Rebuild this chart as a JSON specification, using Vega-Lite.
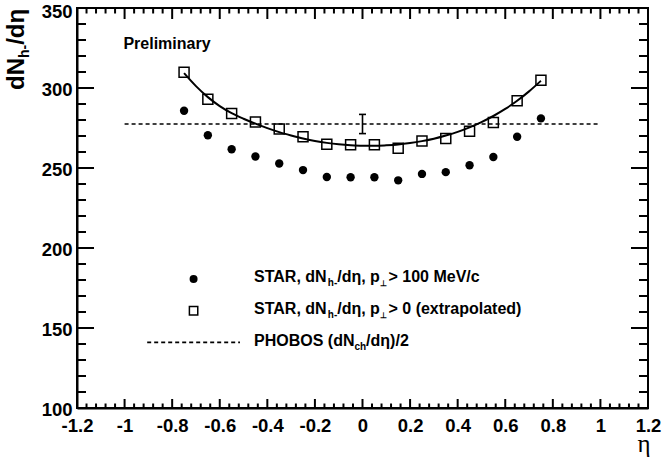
{
  "$schema": "https://vega.github.io/schema/vega-lite/v6.json",
  "width": 571,
  "height": 400,
  "autosize": "none",
  "padding": {"left": 77, "top": 8, "right": 15, "bottom": 53},
  "background": "white",
  "config": {"view": {"stroke": "black", "strokeWidth": 2}, "font": "Liberation Sans"},
  "datasets": {
    "circles": [
      {"eta": -0.75, "val": 285.8}, {"eta": -0.65, "val": 270.5}, {"eta": -0.55, "val": 261.7},
      {"eta": -0.45, "val": 257.2}, {"eta": -0.35, "val": 252.8}, {"eta": -0.25, "val": 248.7},
      {"eta": -0.15, "val": 244.4}, {"eta": -0.05, "val": 244.2}, {"eta": 0.05, "val": 244.2},
      {"eta": 0.15, "val": 242.3}, {"eta": 0.25, "val": 246.3}, {"eta": 0.35, "val": 247.4},
      {"eta": 0.45, "val": 251.7}, {"eta": 0.55, "val": 256.9}, {"eta": 0.65, "val": 269.5},
      {"eta": 0.75, "val": 281.0}
    ],
    "squares": [
      {"eta": -0.75, "val": 309.8}, {"eta": -0.65, "val": 293.0}, {"eta": -0.55, "val": 284.0},
      {"eta": -0.45, "val": 278.8}, {"eta": -0.35, "val": 274.3}, {"eta": -0.25, "val": 269.6},
      {"eta": -0.15, "val": 264.8}, {"eta": -0.05, "val": 264.5}, {"eta": 0.05, "val": 264.5},
      {"eta": 0.15, "val": 262.3}, {"eta": 0.25, "val": 266.8}, {"eta": 0.35, "val": 268.4},
      {"eta": 0.45, "val": 273.0}, {"eta": 0.55, "val": 278.5}, {"eta": 0.65, "val": 292.1},
      {"eta": 0.75, "val": 304.8}
    ],
    "curve": [
      {"eta": -0.75, "val": 309.3}, {"eta": -0.70, "val": 301.2}, {"eta": -0.65, "val": 294.3},
      {"eta": -0.60, "val": 288.7}, {"eta": -0.55, "val": 284.3}, {"eta": -0.50, "val": 280.8},
      {"eta": -0.45, "val": 277.7}, {"eta": -0.40, "val": 274.9}, {"eta": -0.35, "val": 272.4},
      {"eta": -0.30, "val": 270.3}, {"eta": -0.25, "val": 268.4}, {"eta": -0.20, "val": 266.9},
      {"eta": -0.15, "val": 265.7}, {"eta": -0.10, "val": 264.8}, {"eta": -0.05, "val": 264.2},
      {"eta": 0.0, "val": 263.9}, {"eta": 0.05, "val": 263.9}, {"eta": 0.10, "val": 264.2},
      {"eta": 0.15, "val": 264.7}, {"eta": 0.20, "val": 265.6}, {"eta": 0.25, "val": 266.8},
      {"eta": 0.30, "val": 268.3}, {"eta": 0.35, "val": 270.3}, {"eta": 0.40, "val": 272.6},
      {"eta": 0.45, "val": 275.4}, {"eta": 0.50, "val": 278.7}, {"eta": 0.55, "val": 282.5},
      {"eta": 0.60, "val": 286.9}, {"eta": 0.65, "val": 292.0}, {"eta": 0.70, "val": 297.9},
      {"eta": 0.75, "val": 304.5}
    ],
    "phobos": [{"eta": -1.0, "val": 277.5}, {"eta": 1.0, "val": 277.5}],
    "err": [{"eta": 0.0, "lo": 271.5, "hi": 283.5}],
    "xmajor": [{"eta": -1.2}, {"eta": -1.0}, {"eta": -0.8}, {"eta": -0.6}, {"eta": -0.4}, {"eta": -0.2}, {"eta": 0.0}, {"eta": 0.2}, {"eta": 0.4}, {"eta": 0.6}, {"eta": 0.8}, {"eta": 1.0}, {"eta": 1.2}],
    "xminor": [
      {"eta": -1.16}, {"eta": -1.12}, {"eta": -1.08}, {"eta": -1.04}, {"eta": -0.96}, {"eta": -0.92}, {"eta": -0.88}, {"eta": -0.84},
      {"eta": -0.76}, {"eta": -0.72}, {"eta": -0.68}, {"eta": -0.64}, {"eta": -0.56}, {"eta": -0.52}, {"eta": -0.48}, {"eta": -0.44},
      {"eta": -0.36}, {"eta": -0.32}, {"eta": -0.28}, {"eta": -0.24}, {"eta": -0.16}, {"eta": -0.12}, {"eta": -0.08}, {"eta": -0.04},
      {"eta": 0.04}, {"eta": 0.08}, {"eta": 0.12}, {"eta": 0.16}, {"eta": 0.24}, {"eta": 0.28}, {"eta": 0.32}, {"eta": 0.36},
      {"eta": 0.44}, {"eta": 0.48}, {"eta": 0.52}, {"eta": 0.56}, {"eta": 0.64}, {"eta": 0.68}, {"eta": 0.72}, {"eta": 0.76},
      {"eta": 0.84}, {"eta": 0.88}, {"eta": 0.92}, {"eta": 0.96}, {"eta": 1.04}, {"eta": 1.08}, {"eta": 1.12}, {"eta": 1.16}
    ],
    "ymajor": [{"val": 100}, {"val": 150}, {"val": 200}, {"val": 250}, {"val": 300}, {"val": 350}],
    "yminor": [
      {"val": 110}, {"val": 120}, {"val": 130}, {"val": 140}, {"val": 160}, {"val": 170}, {"val": 180}, {"val": 190},
      {"val": 210}, {"val": 220}, {"val": 230}, {"val": 240}, {"val": 260}, {"val": 270}, {"val": 280}, {"val": 290},
      {"val": 310}, {"val": 320}, {"val": 330}, {"val": 340}
    ],
    "anno": [{"note": "annotation"}]
  },
  "resolve": {"axis": {"x": "independent", "y": "independent"}},
  "layer": [
    {
      "data": {"name": "phobos"},
      "mark": {"type": "line", "stroke": "black", "strokeWidth": 1.6, "strokeDash": [4, 3]},
      "encoding": {
        "x": {
          "field": "eta", "type": "quantitative",
          "scale": {"domain": [-1.2, 1.2], "nice": false, "zero": false},
          "axis": {
            "orient": "bottom",
            "values": [-1.2, -1, -0.8, -0.6, -0.4, -0.2, 0, 0.2, 0.4, 0.6, 0.8, 1, 1.2],
            "labelExpr": "replace(format(datum.value, '~g'), '−', '-')",
            "ticks": false, "tickSize": 0,
            "domain": true, "domainColor": "black", "domainWidth": 2,
            "grid": false,
            "labelFont": "Liberation Sans", "labelFontSize": 18.5, "labelFontWeight": "bold", "labelColor": "black",
            "labelPadding": 8, "labelFlush": false, "labelOverlap": false, "labelBound": false,
            "title": "η", "titleFont": "Liberation Serif", "titleFontSize": 25, "titleFontWeight": "normal",
            "titleColor": "black", "titleX": 573, "titleY": 43, "titleAlign": "right", "titleBaseline": "alphabetic"
          }
        },
        "y": {
          "field": "val", "type": "quantitative",
          "scale": {"domain": [100, 350], "nice": false, "zero": false},
          "axis": {
            "orient": "left",
            "values": [100, 150, 200, 250, 300, 350],
            "labelExpr": "format(datum.value, 'd')",
            "labelOffset": {"condition": {"test": "datum.value === 350", "value": 3}, "value": 1},
            "ticks": false, "tickSize": 0,
            "domain": true, "domainColor": "black", "domainWidth": 2,
            "grid": false,
            "labelFont": "Liberation Sans", "labelFontSize": 18.5, "labelFontWeight": "bold", "labelColor": "black",
            "labelPadding": 5, "labelFlush": false, "labelOverlap": false, "labelBound": false,
            "title": null
          }
        }
      }
    },
    {
      "data": {"name": "xmajor"},
      "mark": {"type": "tick", "orient": "vertical", "size": 9, "thickness": 2, "yOffset": -4.5, "color": "black", "opacity": 1},
      "encoding": {"x": {"field": "eta", "type": "quantitative", "axis": null}, "y": {"datum": 100, "type": "quantitative", "axis": null}}
    },
    {
      "data": {"name": "xminor"},
      "mark": {"type": "tick", "orient": "vertical", "size": 4.5, "thickness": 2, "yOffset": -2.25, "color": "black", "opacity": 1},
      "encoding": {"x": {"field": "eta", "type": "quantitative", "axis": null}, "y": {"datum": 100, "type": "quantitative", "axis": null}}
    },
    {
      "data": {"name": "xmajor"},
      "mark": {"type": "tick", "orient": "vertical", "size": 11, "thickness": 2, "yOffset": 5.5, "color": "black", "opacity": 1},
      "encoding": {"x": {"field": "eta", "type": "quantitative", "axis": null}, "y": {"datum": 350, "type": "quantitative", "axis": null}}
    },
    {
      "data": {"name": "xminor"},
      "mark": {"type": "tick", "orient": "vertical", "size": 5.5, "thickness": 2, "yOffset": 2.75, "color": "black", "opacity": 1},
      "encoding": {"x": {"field": "eta", "type": "quantitative", "axis": null}, "y": {"datum": 350, "type": "quantitative", "axis": null}}
    },
    {
      "data": {"name": "ymajor"},
      "mark": {"type": "tick", "orient": "horizontal", "size": 17, "thickness": 2, "xOffset": 8.5, "color": "black", "opacity": 1},
      "encoding": {"y": {"field": "val", "type": "quantitative", "axis": null}, "x": {"datum": -1.2, "type": "quantitative", "axis": null}}
    },
    {
      "data": {"name": "yminor"},
      "mark": {"type": "tick", "orient": "horizontal", "size": 9, "thickness": 2, "xOffset": 4.5, "color": "black", "opacity": 1},
      "encoding": {"y": {"field": "val", "type": "quantitative", "axis": null}, "x": {"datum": -1.2, "type": "quantitative", "axis": null}}
    },
    {
      "data": {"name": "ymajor"},
      "mark": {"type": "tick", "orient": "horizontal", "size": 17, "thickness": 2, "xOffset": -8.5, "color": "black", "opacity": 1},
      "encoding": {"y": {"field": "val", "type": "quantitative", "axis": null}, "x": {"datum": 1.2, "type": "quantitative", "axis": null}}
    },
    {
      "data": {"name": "yminor"},
      "mark": {"type": "tick", "orient": "horizontal", "size": 9, "thickness": 2, "xOffset": -4.5, "color": "black", "opacity": 1},
      "encoding": {"y": {"field": "val", "type": "quantitative", "axis": null}, "x": {"datum": 1.2, "type": "quantitative", "axis": null}}
    },
    {
      "data": {"name": "curve"},
      "mark": {"type": "line", "interpolate": "monotone", "stroke": "black", "strokeWidth": 2},
      "encoding": {
        "x": {"field": "eta", "type": "quantitative", "axis": null},
        "y": {"field": "val", "type": "quantitative", "axis": null}
      }
    },
    {
      "data": {"name": "squares"},
      "mark": {"type": "point", "shape": "square", "filled": false, "stroke": "black", "strokeWidth": 1.5, "size": 100, "opacity": 1},
      "encoding": {
        "x": {"field": "eta", "type": "quantitative", "axis": null},
        "y": {"field": "val", "type": "quantitative", "axis": null}
      }
    },
    {
      "data": {"name": "circles"},
      "mark": {"type": "point", "shape": "circle", "filled": true, "fill": "black", "strokeWidth": 0, "size": 70, "opacity": 1},
      "encoding": {
        "x": {"field": "eta", "type": "quantitative", "axis": null},
        "y": {"field": "val", "type": "quantitative", "axis": null}
      }
    },
    {
      "data": {"name": "err"},
      "mark": {"type": "rule", "stroke": "black", "strokeWidth": 1.6},
      "encoding": {
        "x": {"field": "eta", "type": "quantitative", "axis": null},
        "y": {"field": "lo", "type": "quantitative", "axis": null},
        "y2": {"field": "hi"}
      }
    },
    {
      "data": {"name": "err"},
      "mark": {"type": "tick", "orient": "horizontal", "size": 7, "thickness": 1.6, "color": "black", "opacity": 1},
      "encoding": {
        "x": {"field": "eta", "type": "quantitative", "axis": null},
        "y": {"field": "lo", "type": "quantitative", "axis": null}
      }
    },
    {
      "data": {"name": "err"},
      "mark": {"type": "tick", "orient": "horizontal", "size": 7, "thickness": 1.6, "color": "black", "opacity": 1},
      "encoding": {
        "x": {"field": "eta", "type": "quantitative", "axis": null},
        "y": {"field": "hi", "type": "quantitative", "axis": null}
      }
    },
    {
      "data": {"name": "anno"},
      "mark": {"type": "point", "shape": "circle", "filled": true, "fill": "black", "strokeWidth": 0, "size": 64, "opacity": 1},
      "encoding": {
        "x": {"datum": -0.71, "type": "quantitative", "axis": null},
        "y": {"datum": 180.6, "type": "quantitative", "axis": null}
      }
    },
    {
      "data": {"name": "anno"},
      "mark": {"type": "point", "shape": "square", "filled": false, "stroke": "black", "strokeWidth": 1.5, "size": 70, "opacity": 1},
      "encoding": {
        "x": {"datum": -0.71, "type": "quantitative", "axis": null},
        "y": {"datum": 160.8, "type": "quantitative", "axis": null}
      }
    },
    {
      "data": {"name": "anno"},
      "mark": {"type": "rule", "stroke": "black", "strokeWidth": 1.6, "strokeDash": [4, 3]},
      "encoding": {
        "x": {"datum": -0.905, "type": "quantitative", "axis": null},
        "x2": {"datum": -0.515},
        "y": {"datum": 141, "type": "quantitative", "axis": null}
      }
    },
    {
      "data": {"name": "anno"},
      "mark": {"type": "text", "text": "Preliminary", "font": "Liberation Sans", "fontSize": 16, "fontWeight": "bold", "align": "left", "baseline": "alphabetic", "color": "black"},
      "encoding": {
        "x": {"datum": -1.005, "type": "quantitative", "axis": null},
        "y": {"datum": 324.2, "type": "quantitative", "axis": null}
      }
    },
    {
      "data": {"name": "anno"},
      "mark": {"type": "text", "text": "STAR, dN", "font": "Liberation Sans", "fontSize": 16, "fontWeight": "bold", "align": "left", "baseline": "alphabetic", "color": "black"},
      "encoding": {"x": {"datum": -0.456, "type": "quantitative", "axis": null}, "y": {"datum": 178.9, "type": "quantitative", "axis": null}}
    },
    {
      "data": {"name": "anno"},
      "mark": {"type": "text", "text": "h-", "font": "Liberation Sans", "fontSize": 10, "fontWeight": "bold", "align": "left", "baseline": "alphabetic", "color": "black", "dx": 73.8, "dy": 4},
      "encoding": {"x": {"datum": -0.456, "type": "quantitative", "axis": null}, "y": {"datum": 178.9, "type": "quantitative", "axis": null}}
    },
    {
      "data": {"name": "anno"},
      "mark": {"type": "text", "text": "/dη, p", "font": "Liberation Sans", "fontSize": 16, "fontWeight": "bold", "align": "left", "baseline": "alphabetic", "color": "black", "dx": 83.2},
      "encoding": {"x": {"datum": -0.456, "type": "quantitative", "axis": null}, "y": {"datum": 178.9, "type": "quantitative", "axis": null}}
    },
    {
      "data": {"name": "anno"},
      "mark": {"type": "text", "text": "⊥", "font": "Liberation Sans", "fontSize": 8, "fontWeight": "bold", "align": "left", "baseline": "alphabetic", "color": "black", "dx": 126, "dy": 4},
      "encoding": {"x": {"datum": -0.456, "type": "quantitative", "axis": null}, "y": {"datum": 178.9, "type": "quantitative", "axis": null}}
    },
    {
      "data": {"name": "anno"},
      "mark": {"type": "text", "text": "> 100 MeV/c", "font": "Liberation Sans", "fontSize": 16, "fontWeight": "bold", "align": "left", "baseline": "alphabetic", "color": "black", "dx": 134.5},
      "encoding": {"x": {"datum": -0.456, "type": "quantitative", "axis": null}, "y": {"datum": 178.9, "type": "quantitative", "axis": null}}
    },
    {
      "data": {"name": "anno"},
      "mark": {"type": "text", "text": "STAR, dN", "font": "Liberation Sans", "fontSize": 16, "fontWeight": "bold", "align": "left", "baseline": "alphabetic", "color": "black"},
      "encoding": {"x": {"datum": -0.456, "type": "quantitative", "axis": null}, "y": {"datum": 158.6, "type": "quantitative", "axis": null}}
    },
    {
      "data": {"name": "anno"},
      "mark": {"type": "text", "text": "h-", "font": "Liberation Sans", "fontSize": 10, "fontWeight": "bold", "align": "left", "baseline": "alphabetic", "color": "black", "dx": 73.8, "dy": 4},
      "encoding": {"x": {"datum": -0.456, "type": "quantitative", "axis": null}, "y": {"datum": 158.6, "type": "quantitative", "axis": null}}
    },
    {
      "data": {"name": "anno"},
      "mark": {"type": "text", "text": "/dη, p", "font": "Liberation Sans", "fontSize": 16, "fontWeight": "bold", "align": "left", "baseline": "alphabetic", "color": "black", "dx": 83.2},
      "encoding": {"x": {"datum": -0.456, "type": "quantitative", "axis": null}, "y": {"datum": 158.6, "type": "quantitative", "axis": null}}
    },
    {
      "data": {"name": "anno"},
      "mark": {"type": "text", "text": "⊥", "font": "Liberation Sans", "fontSize": 8, "fontWeight": "bold", "align": "left", "baseline": "alphabetic", "color": "black", "dx": 126, "dy": 4},
      "encoding": {"x": {"datum": -0.456, "type": "quantitative", "axis": null}, "y": {"datum": 158.6, "type": "quantitative", "axis": null}}
    },
    {
      "data": {"name": "anno"},
      "mark": {"type": "text", "text": "> 0 (extrapolated)", "font": "Liberation Sans", "fontSize": 16, "fontWeight": "bold", "align": "left", "baseline": "alphabetic", "color": "black", "dx": 134.5},
      "encoding": {"x": {"datum": -0.456, "type": "quantitative", "axis": null}, "y": {"datum": 158.6, "type": "quantitative", "axis": null}}
    },
    {
      "data": {"name": "anno"},
      "mark": {"type": "text", "text": "PHOBOS (dN", "font": "Liberation Sans", "fontSize": 16, "fontWeight": "bold", "align": "left", "baseline": "alphabetic", "color": "black"},
      "encoding": {"x": {"datum": -0.456, "type": "quantitative", "axis": null}, "y": {"datum": 138.75, "type": "quantitative", "axis": null}}
    },
    {
      "data": {"name": "anno"},
      "mark": {"type": "text", "text": "ch", "font": "Liberation Sans", "fontSize": 10, "fontWeight": "bold", "align": "left", "baseline": "alphabetic", "color": "black", "dx": 100.4, "dy": 4},
      "encoding": {"x": {"datum": -0.456, "type": "quantitative", "axis": null}, "y": {"datum": 138.75, "type": "quantitative", "axis": null}}
    },
    {
      "data": {"name": "anno"},
      "mark": {"type": "text", "text": "/dη)/2", "font": "Liberation Sans", "fontSize": 16, "fontWeight": "bold", "align": "left", "baseline": "alphabetic", "color": "black", "dx": 112.1},
      "encoding": {"x": {"datum": -0.456, "type": "quantitative", "axis": null}, "y": {"datum": 138.75, "type": "quantitative", "axis": null}}
    },
    {
      "data": {"name": "anno"},
      "mark": {"type": "text", "text": "dN", "font": "Liberation Sans", "fontSize": 24, "fontWeight": "bold", "align": "left", "baseline": "alphabetic", "color": "black", "angle": 270},
      "encoding": {"x": {"datum": -1.422, "type": "quantitative", "axis": null}, "y": {"datum": 298.75, "type": "quantitative", "axis": null}}
    },
    {
      "data": {"name": "anno"},
      "mark": {"type": "text", "text": "h-", "font": "Liberation Sans", "fontSize": 14, "fontWeight": "bold", "align": "left", "baseline": "alphabetic", "color": "black", "angle": 270, "dx": 32, "dy": 5},
      "encoding": {"x": {"datum": -1.422, "type": "quantitative", "axis": null}, "y": {"datum": 298.75, "type": "quantitative", "axis": null}}
    },
    {
      "data": {"name": "anno"},
      "mark": {"type": "text", "text": "/dη", "font": "Liberation Sans", "fontSize": 24, "fontWeight": "bold", "align": "left", "baseline": "alphabetic", "color": "black", "angle": 270, "dx": 45.2},
      "encoding": {"x": {"datum": -1.422, "type": "quantitative", "axis": null}, "y": {"datum": 298.75, "type": "quantitative", "axis": null}}
    }
  ]
}
